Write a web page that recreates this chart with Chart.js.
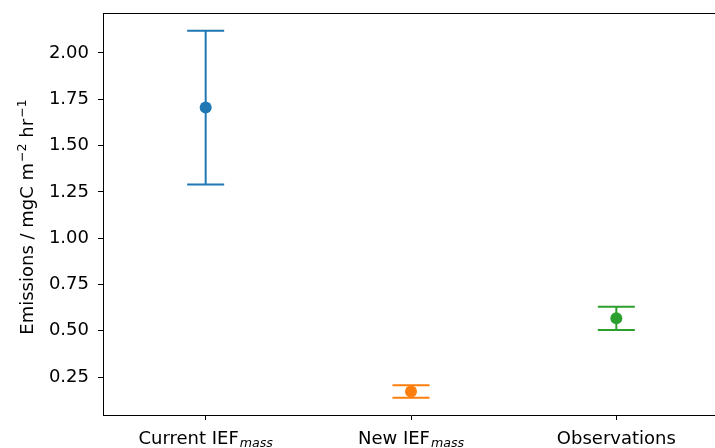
<!DOCTYPE html>
<html>
<head>
<meta charset="utf-8">
<script src="https://cdn.jsdelivr.net/npm/chart.js@4/dist/chart.umd.min.js"></script>
<style>
html,body{margin:0;padding:0;overflow:hidden;background:#fff;}
#wrap{width:725px;height:448px;position:relative;}
</style>
</head>
<body>
<div id="wrap"><canvas id="c"></canvas></div>
<script>
const categoryMain = ['Current IEF', 'New IEF', 'Observations'];
const categorySub = ['mass', 'mass', ''];
const categoryPos = [0, 1, 2];
const means = [1.705, 0.172, 0.567];
const errors = [0.415, 0.034, 0.063];
const colors = ['#1f77b4', '#ff7f0e', '#2ca02c'];
const yTicks = [0.25, 0.50, 0.75, 1.00, 1.25, 1.50, 1.75, 2.00];
// y-axis title parts: [text, isSuperscript]
const yTitleParts = [['Emissions / mgC m', false], ['\u22122', true], [' hr', false], ['\u22121', true]];

const FONT = 'DejaVu Sans';
const MAIN = '18px "' + FONT + '"';
const SMALL = '12.6px "' + FONT + '"';
const SMALL_IT = 'italic 12.6px "' + FONT + '"';

const errorBarPlugin = {
  id: 'errbars',
  beforeDatasetsDraw(chart) {
    const ctx = chart.ctx, xs = chart.scales.x, ys = chart.scales.y;
    ctx.save();
    ctx.lineWidth = 2;
    categoryPos.forEach((p, i) => {
      const x = xs.getPixelForValue(p);
      const yTop = ys.getPixelForValue(means[i] + errors[i]);
      const yBot = ys.getPixelForValue(means[i] - errors[i]);
      ctx.strokeStyle = colors[i];
      ctx.beginPath();
      ctx.moveTo(x, yTop); ctx.lineTo(x, yBot);
      ctx.moveTo(x - 18.5, yTop); ctx.lineTo(x + 18.5, yTop);
      ctx.moveTo(x - 18.5, yBot); ctx.lineTo(x + 18.5, yBot);
      ctx.stroke();
    });
    ctx.restore();
  },
  afterDraw(chart) {
    const ctx = chart.ctx, a = chart.chartArea, xs = chart.scales.x;
    ctx.save();
    ctx.strokeStyle = '#000';
    ctx.lineWidth = 1;
    ctx.beginPath();
    ctx.moveTo(a.left, a.top + 0.5); ctx.lineTo(a.right, a.top + 0.5);
    ctx.moveTo(a.right - 0.5, a.top); ctx.lineTo(a.right - 0.5, a.bottom);
    ctx.stroke();
    // category labels with subscript
    ctx.fillStyle = '#000';
    ctx.textBaseline = 'alphabetic';
    ctx.textAlign = 'left';
    categoryPos.forEach((p, i) => {
      const x = xs.getPixelForValue(p);
      ctx.font = MAIN;
      const w1 = ctx.measureText(categoryMain[i]).width;
      ctx.font = SMALL_IT;
      const w2 = categorySub[i] ? ctx.measureText(categorySub[i]).width + 1 : 0;
      const start = x - (w1 + w2) / 2;
      ctx.font = MAIN;
      ctx.fillText(categoryMain[i], start, 444);
      if (categorySub[i]) {
        ctx.font = SMALL_IT;
        ctx.fillText(categorySub[i], start + w1 + 1, 447);
      }
    });
    // rotated y title with superscripts
    const fontFor = sup => (sup ? SMALL : MAIN);
    let total = 0;
    yTitleParts.forEach(([t, sup]) => { ctx.font = fontFor(sup); total += ctx.measureText(t).width + (sup ? 1 : 0); });
    const cy = (a.top + a.bottom) / 2 + 3;
    ctx.translate(33, cy);
    ctx.rotate(-Math.PI / 2);
    let pos = -total / 2;
    yTitleParts.forEach(([t, sup]) => {
      ctx.font = fontFor(sup);
      ctx.fillText(t, pos + (sup ? 1 : 0), sup ? -7 : 0);
      pos += ctx.measureText(t).width + (sup ? 1 : 0);
    });
    ctx.restore();
  }
};

new Chart(document.getElementById('c'), {
  type: 'scatter',
  data: {
    datasets: [{
      data: categoryPos.map((p, i) => ({x: p, y: means[i]})),
      pointBackgroundColor: colors,
      pointBorderColor: colors,
      pointRadius: 6,
      pointHoverRadius: 6,
      borderWidth: 0,
      showLine: false
    }]
  },
  options: {
    responsive: true,
    maintainAspectRatio: false,
    animation: false,
    events: [],
    layout: {padding: {left: 0, top: 13, right: 3, bottom: 0}},
    plugins: {legend: {display: false}, tooltip: {enabled: false}},
    scales: {
      x: {
        type: 'linear',
        min: -0.5, max: 2.5,
        afterBuildTicks: s => { s.ticks = categoryPos.map(v => ({value: v})); },
        afterFit: s => { s.height = 33; s.paddingLeft = 0; s.paddingRight = 0; },
        ticks: {display: false},
        grid: {drawOnChartArea: false, drawTicks: true, tickLength: 5, tickColor: '#000', tickWidth: 1},
        border: {display: true, color: '#000', width: 1}
      },
      y: {
        type: 'linear',
        min: 0.0448, max: 2.216,
        afterBuildTicks: s => { s.ticks = yTicks.map(v => ({value: v})); },
        afterFit: s => { s.width = 103; s.paddingTop = 0; s.paddingBottom = 0; },
        ticks: {
          color: '#000',
          padding: 9,
          font: {family: FONT, size: 18},
          callback: v => v.toFixed(2)
        },
        grid: {drawOnChartArea: false, drawTicks: true, tickLength: 5, tickColor: '#000', tickWidth: 1},
        border: {display: true, color: '#000', width: 1},
        title: {display: false}
      }
    }
  },
  plugins: [errorBarPlugin]
});
</script>
</body>
</html>
